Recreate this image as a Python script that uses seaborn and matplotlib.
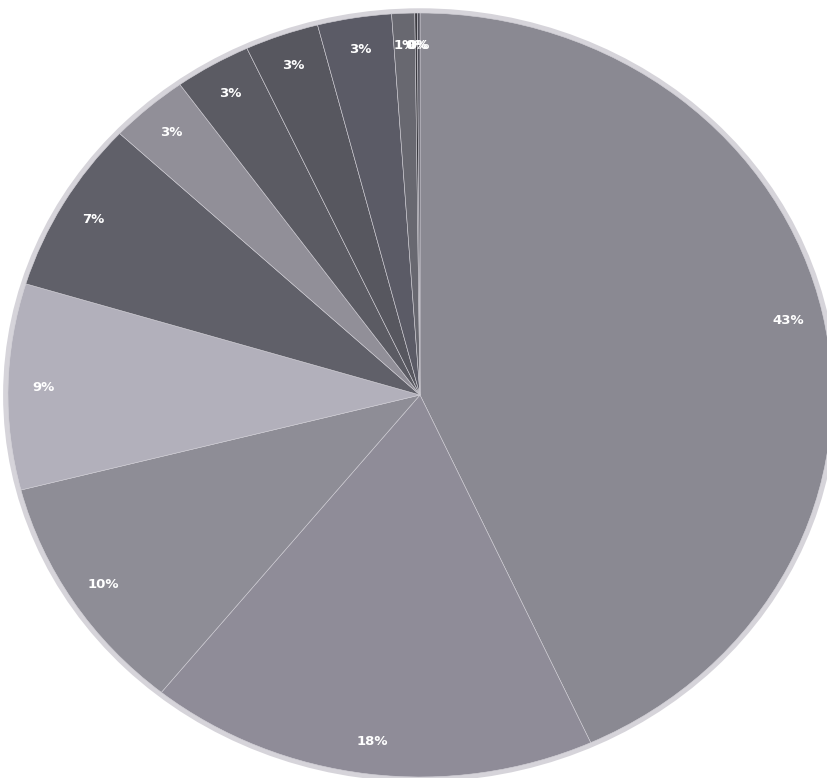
import matplotlib
matplotlib.use("Agg")
import matplotlib.pyplot as plt
import seaborn as sns

sns.set_theme(style="white")
plt.rcParams['font.family'] = ['DejaVu Sans']

# Data (percent shares, clockwise from 12 o'clock)
categories = ["A", "B", "C", "D", "E", "F", "G", "H", "I", "J", "K", "L"]
values = [43.2, 17.6, 10.2, 8.7, 7.3, 3.1, 3.0, 2.9, 2.9, 0.9, 0.1, 0.1]
colors = ["#8a8992", "#8f8c98", "#8e8d96", "#b2b0bb", "#606069", "#918f98",
          "#5b5b63", "#57575f", "#5b5b66", "#686870", "#3a3a40", "#50505a"]

fig = plt.figure(figsize=(8.28, 7.78), dpi=100)
ax = fig.add_axes([0, 0, 1, 1])

wedges, texts, autotexts = ax.pie(
    values, colors=colors, startangle=90, counterclock=False,
    autopct='%1.0f%%', pctdistance=0.915,
    wedgeprops=dict(edgecolor="#cfcdd4", linewidth=0.4),
    textprops=dict(color="white", fontsize=9.5, fontweight="bold"),
)

# outer soft halo like the scanned reference
halo = plt.Circle((0, 0), 1.006, fill=False, edgecolor="#d6d4da", linewidth=3.5, zorder=0)
ax.add_patch(halo)

ax.set_aspect('auto')
cx, cy, rx, ry = 420, 395, 412, 382
ax.set_xlim(-cx / rx, (828 - cx) / rx)
ax.set_ylim(-(778 - cy) / ry, cy / ry)
ax.axis('off')

fig.savefig("out.png", dpi=100, facecolor="white")
